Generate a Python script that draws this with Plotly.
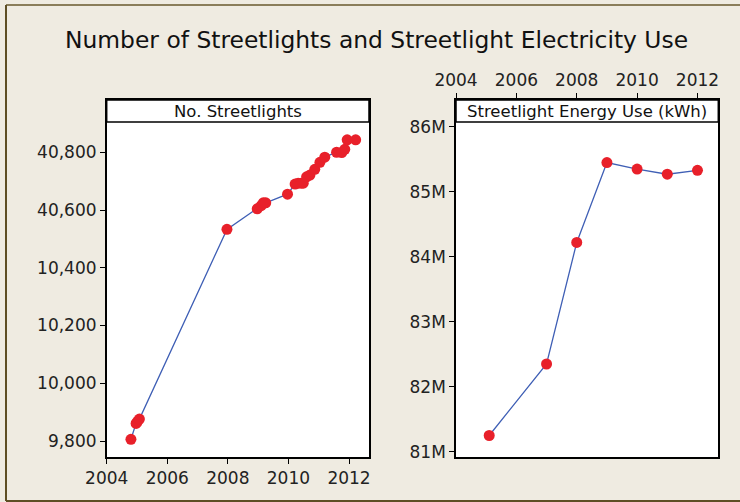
import plotly.graph_objects as go

# Number of streetlights (monthly counts)
light_years = [2004.80, 2004.97, 2005.02, 2005.08, 2007.97, 2008.97, 2009.10, 2009.17,
               2009.25, 2009.97, 2010.22, 2010.32, 2010.42, 2010.49, 2010.60, 2010.71,
               2010.87, 2011.04, 2011.20, 2011.59, 2011.76, 2011.86, 2011.94, 2012.22]
light_counts = [9806, 9861, 9868, 9876, 10533, 10604, 10615, 10625,
                10625, 10655, 10690, 10693, 10693, 10693, 10715, 10721,
                10741, 10765, 10783, 10800, 10799, 10810, 10843, 10843]
light_tickvals = [9800, 10000, 10200, 10400, 10600, 10800]
light_ticktext = ["9,800", "10,000", "10,200", "10,400", "40,600", "40,800"]

# Annual streetlight energy use (kWh)
energy_years = [2005.1, 2007.0, 2008.0, 2009.0, 2010.0, 2011.0, 2012.0]
energy_kwh = [81.25e6, 82.35e6, 84.22e6, 85.45e6, 85.35e6, 85.27e6, 85.33e6]
energy_tickvals = [81e6, 82e6, 83e6, 84e6, 85e6, 86e6]
energy_ticktext = ["81M", "82M", "83M", "84M", "85M", "86M"]

year_ticks = [2004, 2006, 2008, 2010, 2012]

W, H = 740, 502
BG = "#EFEBE1"
LINE = "#3F5FB5"
DOT = "#E8202A"
FONT = "DejaVu Sans"


def px_x(p):
    return p / W


def px_y(p):
    return 1 - p / H


fig = go.Figure()
fig.add_trace(go.Scatter(x=light_years, y=light_counts, mode="lines+markers",
                         line=dict(color=LINE, width=1.3),
                         marker=dict(color=DOT, size=11),
                         xaxis="x", yaxis="y", showlegend=False))
fig.add_trace(go.Scatter(x=energy_years, y=energy_kwh, mode="lines+markers",
                         line=dict(color=LINE, width=1.3),
                         marker=dict(color=DOT, size=11),
                         xaxis="x2", yaxis="y2", showlegend=False))

axis_common = dict(showline=True, linecolor="black", linewidth=1.5, mirror=True,
                   ticks="outside", ticklen=5, tickcolor="black", tickwidth=1,
                   showgrid=False, zeroline=False, automargin=False,
                   tickfont=dict(family=FONT, size=17, color="#222"))

top_px, bottom_px = 100, 457

fig.update_layout(
    width=W, height=H,
    margin=dict(l=0, r=0, t=0, b=0, pad=0, autoexpand=False),
    paper_bgcolor=BG, plot_bgcolor="white",
    xaxis=dict(domain=[px_x(106.7), px_x(369)], range=[2004, 2012.66],
               tickvals=year_ticks, anchor="y", **axis_common),
    yaxis=dict(domain=[px_y(bottom_px), px_y(top_px)], range=[9744.6, 10981],
               tickvals=light_tickvals, ticktext=light_ticktext, anchor="x",
               **axis_common),
    xaxis2=dict(domain=[px_x(456), px_x(718.3)], range=[2004, 2012.69],
                tickvals=year_ticks, side="top", anchor="y2", **axis_common),
    yaxis2=dict(domain=[px_y(bottom_px), px_y(top_px)], range=[80.919e6, 86.412e6],
                tickvals=energy_tickvals, ticktext=energy_ticktext, anchor="x2",
                **axis_common),
)

shapes = []
annotations = []
# Panel headers
for x0, x1, label in [(106.7, 369, "No. Streetlights"),
                      (456, 718.3, "Streetlight Energy Use (kWh)")]:
    shapes.append(dict(type="rect", xref="paper", yref="paper",
                       x0=px_x(x0), x1=px_x(x1), y0=px_y(122), y1=px_y(100),
                       fillcolor="white", line=dict(color="black", width=1.5)))
    annotations.append(dict(x=px_x((x0 + x1) / 2), y=px_y(111), xref="paper", yref="paper",
                            text=label, showarrow=False, xanchor="center", yanchor="middle",
                            font=dict(family=FONT, size=16.5, color="#111")))

# Outer frame
frame = dict(color="#5E4E24", width=2)
shapes.append(dict(type="line", xref="paper", yref="paper",
                   x0=px_x(6), x1=1, y0=px_y(5), y1=px_y(5), line=dict(color="#8A7D5A", width=2)))
shapes.append(dict(type="line", xref="paper", yref="paper",
                   x0=px_x(6), x1=px_x(6), y0=px_y(5), y1=px_y(501), line=frame))
shapes.append(dict(type="line", xref="paper", yref="paper",
                   x0=px_x(6), x1=1, y0=px_y(501), y1=px_y(501), line=frame))

annotations.append(dict(x=px_x(376), y=px_y(40), xref="paper", yref="paper",
                        text="Number of Streetlights and Streetlight Electricity Use",
                        showarrow=False, xanchor="center", yanchor="middle",
                        font=dict(family=FONT, size=23.4, color="#111")))

fig.update_layout(shapes=shapes, annotations=annotations)
fig.write_html("out.html")
